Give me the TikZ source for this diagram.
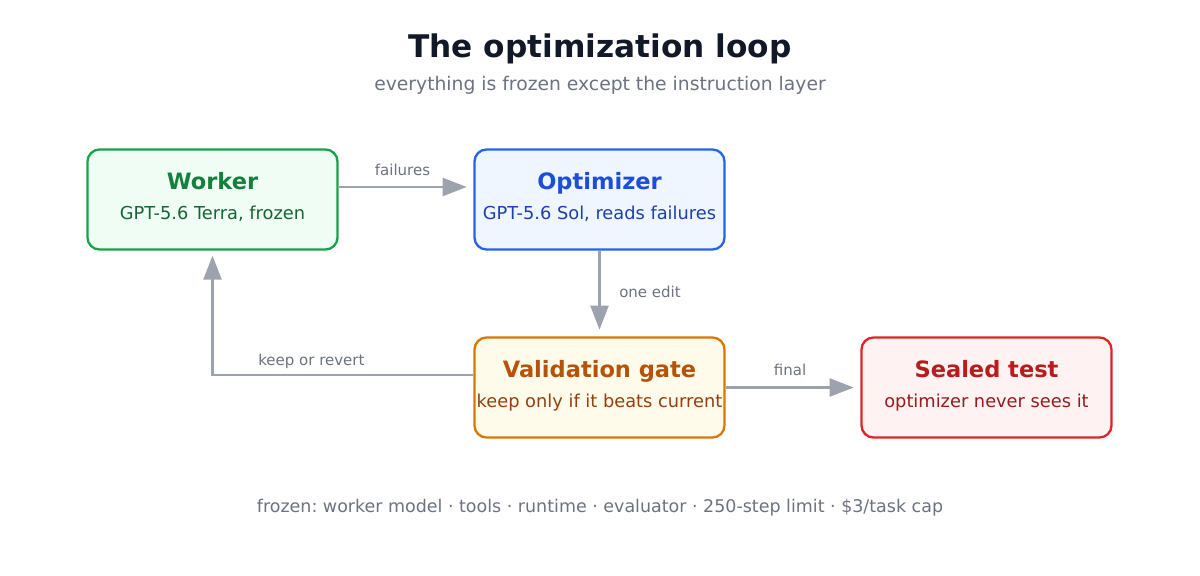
\documentclass[tikz,border=0pt]{standalone}
\usepackage{fontspec}
\setmainfont{DejaVu Sans}
\usetikzlibrary{arrows.meta,positioning,calc}
\frenchspacing
\definecolor{titlec}{HTML}{111827}
\definecolor{mutedc}{HTML}{6B7280}
\definecolor{arrowc}{HTML}{9CA3AF}
\definecolor{gfill}{HTML}{F0FDF4}\definecolor{gdraw}{HTML}{16A34A}\definecolor{gtitle}{HTML}{15803D}\definecolor{gsub}{HTML}{166534}
\definecolor{bfill}{HTML}{EFF6FF}\definecolor{bdraw}{HTML}{2563EB}\definecolor{btitle}{HTML}{1D4ED8}\definecolor{bsub}{HTML}{1E40AF}
\definecolor{afill}{HTML}{FFFBEB}\definecolor{adraw}{HTML}{D97706}\definecolor{atitle}{HTML}{B45309}\definecolor{asub}{HTML}{92400E}
\definecolor{rfill}{HTML}{FEF2F2}\definecolor{rdraw}{HTML}{DC2626}\definecolor{rtitle}{HTML}{B91C1C}\definecolor{rsub}{HTML}{991B1B}
\tikzset{
  box/.style={draw, rounded corners=9pt, line width=1.75pt, minimum width=187.5pt, minimum height=75pt, inner sep=0pt},
  boxtitle/.style={anchor=base, inner sep=0pt, font=\fontsize{16.9pt}{20pt}\selectfont\bfseries},
  boxsub/.style={anchor=base, inner sep=0pt, font=\fontsize{13.35pt}{16pt}\selectfont},
  elabel/.style={anchor=base, inner sep=0pt, text=mutedc, font=\fontsize{11.25pt}{14pt}\selectfont},
  arr/.style={draw=arrowc, line width=1.8pt, -{Triangle[length=18pt,width=13.5pt]}, shorten >=5pt},
}
\begin{document}
\begin{tikzpicture}[x=0.75pt,y=-0.75pt]
\useasboundingbox (0,0) rectangle (1200,575);
% title
\node[anchor=base, inner sep=0pt, text=titlec, font=\fontsize{23.4pt}{28pt}\selectfont\bfseries] (title) at (600,57) {The optimization loop};
\node[anchor=base, inner sep=0pt, text=mutedc, font=\fontsize{14.06pt}{17pt}\selectfont] (subtitle) at (600,90) {everything is frozen except the instruction layer};
% boxes
\node[box, fill=gfill, draw=gdraw] (worker) at (212.5,199.5) {};
\node[box, fill=bfill, draw=bdraw] (opt) at (599.5,199.5) {};
\node[box, fill=afill, draw=adraw] (val) at (599.5,387.5) {};
\node[box, fill=rfill, draw=rdraw] (seal) at (986.5,387.5) {};
% box texts
\node[boxtitle, text=gtitle] (workerT) at ([yshift=-30.75pt]worker.north) {Worker};
\node[boxsub, text=gsub] (workerS) at ([yshift=-53.25pt]worker.north) {GPT-5.6 Terra, frozen};
\node[boxtitle, text=btitle] (optT) at ([yshift=-30.75pt]opt.north) {Optimizer};
\node[boxsub, text=bsub] (optS) at ([yshift=-53.25pt]opt.north) {GPT-5.6 Sol, reads failures};
\node[boxtitle, text=atitle] (valT) at ([yshift=-30.75pt]val.north) {Validation gate};
\node[boxsub, text=asub] (valS) at ([yshift=-53.25pt]val.north) {keep only if it beats current};
\node[boxtitle, text=rtitle] (sealT) at ([yshift=-30.75pt]seal.north) {Sealed test};
\node[boxsub, text=rsub] (sealS) at ([yshift=-53.25pt]seal.north) {optimizer never sees it};
% connectors
\draw[arr] ([yshift=9.375pt]worker.east) -- ([yshift=9.375pt]opt.west);
\draw[arr] (opt.south) -- (val.north);
\draw[arr, shorten >=3.75pt] ([yshift=9.375pt]val.west) -| (worker.south);
\draw[arr] (val.east) -- (seal.west);
% edge labels
\node[elabel] (lfail) at (402.5,175) {failures};
\node[elabel, anchor=base west] (ledit) at (619,297) {one edit};
\node[elabel, anchor=base west] (lkeep) at (258,365) {keep or revert};
\node[elabel] (lfinal) at (790,375) {final};
% footer
\node[anchor=base, inner sep=0pt, text=mutedc, font=\fontsize{13.1pt}{16pt}\selectfont] (footer) at (600,512) {frozen: worker model · tools · runtime · evaluator · 250-step limit · \$3/task cap};
\end{tikzpicture}
\end{document}
